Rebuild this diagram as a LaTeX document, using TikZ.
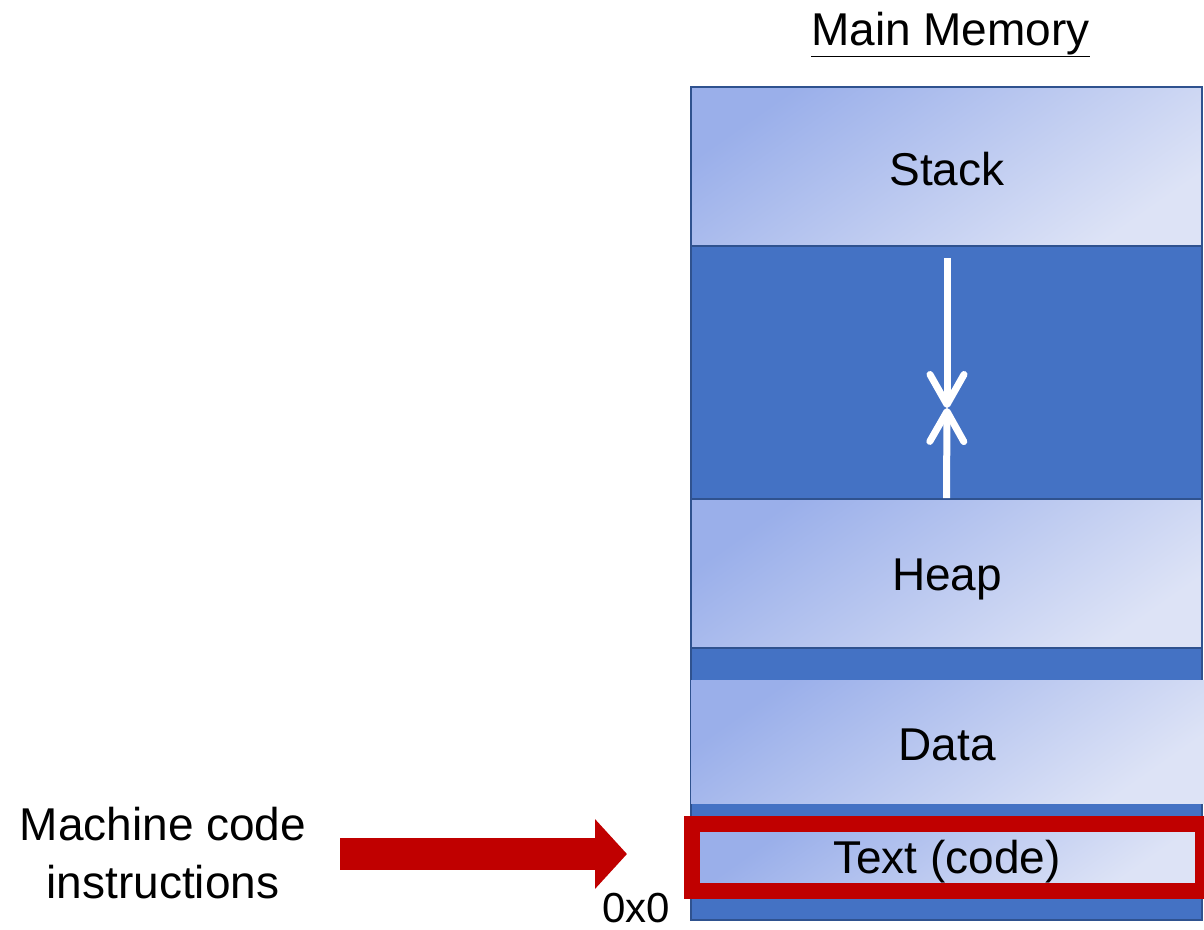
\documentclass[tikz,border=0pt]{standalone}
\usepackage{fontspec}
\setmainfont{Liberation Sans}
\usetikzlibrary{arrows.meta}
\definecolor{darkblue}{HTML}{4472C4}
\definecolor{edgeblue}{HTML}{2F528F}
\definecolor{lightA}{HTML}{9AAFEA}
\definecolor{lightB}{HTML}{DDE3F6}
\definecolor{redc}{HTML}{C00000}
\tikzset{
  lbl/.style={font=\fontsize{46}{58}\selectfont, text=black, inner sep=0pt, anchor=base},
  segbox/.style={draw=edgeblue, line width=1.6pt, top color=lightA, bottom color=lightB, shading angle=35, inner sep=0pt},
  plainseg/.style={top color=lightA, bottom color=lightB, shading angle=35, inner sep=0pt},
  growarrow/.style={white, line width=7pt, -{Straight Barb[length=30pt,width=34pt,round]}},
  bigarrow/.style={redc, line width=32pt, -{Triangle[length=32pt,width=68pt]}},
}
\begin{document}
\begin{tikzpicture}[x=1pt,y=-1pt]
\useasboundingbox (0,0) rectangle (1204,929);
% whole memory
\node[draw=edgeblue, line width=1.6pt, fill=darkblue, minimum width=511pt, minimum height=833pt, inner sep=0pt] (mem) at (946.5,503.5) {};
\node[lbl] (title) at (950.5,45) {\underline{Main Memory}};
% segments
\node[segbox, minimum width=511pt, minimum height=159pt] (stack) at (946.5,166.5) {};
\node[segbox, minimum width=511pt, minimum height=149pt] (heap) at (946.5,573.5) {};
\node[plainseg, minimum width=513pt, minimum height=123pt] (data) at (947.5,741.5) {};
\node[plainseg, minimum width=495pt, minimum height=51pt] (text) at (947.5,857.5) {};
\node[draw=redc, line width=16pt, minimum width=511pt, minimum height=67pt, inner sep=0pt, outer sep=0pt] (frame) at (947.5,857.5) {};
\node[lbl] (stackL) at (947,185) {Stack};
\node[lbl] (heapL) at (947,590) {Heap};
\node[lbl] (dataL) at (947,760) {Data};
\node[lbl] (textL) at (947,873) {Text (code)};
% growth arrows
\coordinate (gtop) at (947,258);
\coordinate (meet) at (947,408);
\draw[growarrow] (gtop) -- (meet);
\draw[growarrow] (heap.north) -- (meet);
% left label and arrow
\node[lbl] (mc1) at (163,840) {Machine code};
\node[lbl] (mc2) at (163,898) {instructions};
\coordinate (ashaft) at (340,854);
\coordinate (atip) at (627,854);
\draw[bigarrow] (ashaft) -- (atip);
\node[lbl, font=\fontsize{42}{50}\selectfont] (zero) at (636,922) {0x0};
\end{tikzpicture}
\end{document}
